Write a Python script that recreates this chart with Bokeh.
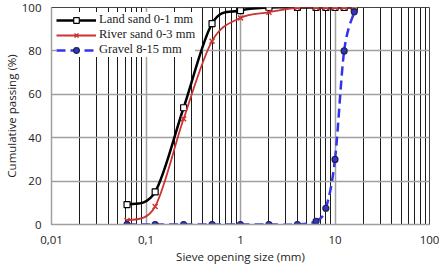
import numpy as np
from bokeh.plotting import figure
from bokeh.models import FixedTicker, Range1d, Legend, LegendItem, ColumnDataSource
from bokeh.embed import file_html
from bokeh.resources import INLINE

# ---- data ----
sieve = [0.063, 0.125, 0.25, 0.5, 1, 2, 4, 6.3, 8, 10, 12.5, 16]
land_sand = [9.2, 15.0, 53.8, 92.6, 98.6, 100, 100, 100, 100, 100, 100, 100]
river_sand = [1.8, 8.3, 48.7, 84.5, 95.2, 97.8, 100, 100, 100, 100, 100, 100]
gravel = [0, 0, 0, 0, 0, 0, 0, 1.5, 7.5, 30, 80, 98]
series_names = ["Land sand 0-1 mm", "River sand 0-3 mm", "Gravel 8-15 mm"]
x_ticks = [0.01, 0.1, 1, 10, 100]
x_tick_labels = ["0,01", "0,1", "1", "10", "100"]
y_ticks = [0, 20, 40, 60, 80, 100]

minor_x = [m * d for d in [0.01, 0.1, 1, 10] for m in range(2, 10)]


def smooth_segments(xs, ys):
    """Bezier control points (Catmull-Rom style) in log-x space."""
    lx = np.log10(np.array(xs, dtype=float))
    y = np.array(ys, dtype=float)
    n = len(lx)
    P = np.column_stack([lx, y])
    x0, y0, x1, y1, cx0, cy0, cx1, cy1 = ([] for _ in range(8))
    for i in range(n - 1):
        pm = P[i - 1] if i > 0 else P[i]
        p0 = P[i]
        p1 = P[i + 1]
        pp = P[i + 2] if i + 2 < n else P[i + 1]
        c0 = p0 + (p1 - pm) / 6.0
        c1 = p1 - (pp - p0) / 6.0
        x0.append(10 ** p0[0]); y0.append(p0[1])
        x1.append(10 ** p1[0]); y1.append(p1[1])
        cx0.append(10 ** c0[0]); cy0.append(c0[1])
        cx1.append(10 ** c1[0]); cy1.append(c1[1])
    return ColumnDataSource(dict(x0=x0, y0=y0, x1=x1, y1=y1,
                                 cx0=cx0, cy0=cy0, cx1=cx1, cy1=cy1))


p = figure(width=439, height=268, x_axis_type="log",
           x_range=Range1d(0.01, 100), y_range=Range1d(0, 100),
           output_backend="svg", toolbar_location=None,
           min_border_left=50, min_border_right=10,
           min_border_top=7, min_border_bottom=44)
p.background_fill_color = "white"
p.border_fill_color = "white"
p.outline_line_color = "#444444"
p.outline_line_width = 1

# grids
p.xgrid.ticker = FixedTicker(ticks=x_ticks, minor_ticks=minor_x)
p.xgrid.grid_line_color = "#a0a0a0"
p.xgrid.grid_line_width = 1.5
p.xgrid.minor_grid_line_color = "#1a1a1a"
p.xgrid.minor_grid_line_width = 1
p.ygrid.ticker = FixedTicker(ticks=y_ticks)
p.ygrid.grid_line_color = "#a0a0a0"
p.ygrid.grid_line_width = 1.5

# axes
p.xaxis.ticker = FixedTicker(ticks=x_ticks)
p.xaxis.major_label_overrides = {t: l for t, l in zip(x_ticks, x_tick_labels)}
p.yaxis.ticker = FixedTicker(ticks=y_ticks)
for ax in (p.xaxis, p.yaxis):
    ax.axis_line_color = "#a0a0a0"
    ax.axis_line_width = 1.5
    ax.major_tick_line_color = None
    ax.minor_tick_line_color = None
    ax.major_tick_out = 0
    ax.major_tick_in = 0
    ax.minor_tick_out = 0
    ax.minor_tick_in = 0
    ax.major_label_text_font = "Open Sans"
    ax.major_label_text_font_size = "11.5px"
    ax.major_label_text_color = "#222222"
    ax.axis_label_text_font = "Open Sans"
    ax.axis_label_text_font_size = "11.5px"
    ax.axis_label_text_font_style = "normal"
    ax.axis_label_text_color = "#222222"
p.xaxis.major_label_standoff = 11
p.yaxis.major_label_standoff = 10
p.xaxis.axis_label = "Sieve opening size (mm)"
p.yaxis.axis_label = "Cumulative passing (%)"
p.xaxis.axis_label_standoff = 2
p.yaxis.axis_label_standoff = 0

# series
styles = [
    dict(color="black", width=2.5, dash="solid", marker="square",
         fill="white", size=6),
    dict(color="#cc3333", width=1.8, dash="solid", marker="x",
         fill="#cc3333", size=6),
    dict(color="#3333ee", width=2.5, dash="9 5", marker="circle",
         fill="#3333cc", size=6),
]
values = [land_sand, river_sand, gravel]
items = []
for name, vals, st in zip(series_names, values, styles):
    src = smooth_segments(sieve, vals)
    b = p.bezier(x0="x0", y0="y0", x1="x1", y1="y1", cx0="cx0", cy0="cy0",
                 cx1="cx1", cy1="cy1", source=src, line_color=st["color"],
                 line_width=st["width"], line_dash=st["dash"])
    if st["marker"] == "x":
        s = p.scatter(sieve, vals, marker="x", size=st["size"] + 1,
                      line_color=st["color"], line_width=1.5)
    else:
        s = p.scatter(sieve, vals, marker=st["marker"], size=st["size"],
                      line_color="#222244" if st["marker"] == "circle" else "black",
                      fill_color=st["fill"], line_width=1.2)
    items.append(LegendItem(label=name, renderers=[b, s]))

legend = Legend(items=items, location="top_left")
legend.label_text_font = "Liberation Serif"
legend.label_text_font_size = "12.5px"
legend.label_text_color = "#222222"
legend.glyph_width = 40
legend.glyph_height = 14
legend.label_height = 14
legend.label_standoff = 3
legend.spacing = 0
legend.padding = 2
legend.margin = 5
legend.border_line_color = None
legend.background_fill_alpha = 1
p.add_layout(legend)

open("out.html", "w").write(file_html(p, INLINE))
